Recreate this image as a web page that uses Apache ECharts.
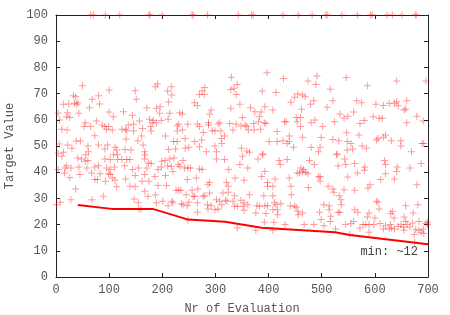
<!DOCTYPE html>
<html><head><meta charset="utf-8">
<script src="https://cdn.jsdelivr.net/npm/echarts@6/dist/echarts.min.js"></script>
<style>html,body{margin:0;padding:0;background:#fff}#c{width:450px;height:315px}</style>
</head><body><div id="c"></div>
<script>
// Evaluations (x = evaluation number, y = target value)
var evalPoints = [
[50,73.0],[33,69.2],[37,68.8],[35,66.3],[39,65.9],[41,66.5],[14,65.9],[24,66.0],[80,69.2],[100,71.4],[149,71.1],[151,67.8],[68,67.8],[82,66.0],[63,64.6],[4,62.5],[22,62.7],[20,61.2],[26,60.9],[43,62.5],[100,63.0],[127,63.1],[108,61.2],[144,61.7],[171,64.6],[7,59.9],[55,58.9],[76,59.5],[87,58.0],[92,57.4],[99,57.4],[95,56.4],[136,58.0],[146,58.3],[157,59.5],[163,56.7],[11,56.4],[21,56.1],[53,57.4],[65,57.4],[106,56.1],[124,56.4],[131,56.4],[133,55.8],[146,55.7],[73,53.9],[132,52.7],[161,53.8],[6,50.8],[22,50.4],[38,51.9],[46,51.9],[60,50.0],[80,50.4],[97,50.4],[111,49.5],[92,48.9],[114,48.5],[130,48.7],[141,48.5],[154,52.0],[164,50.4],[167,47.8],[14,47.6],[30,49.1],[61,47.8],[4,47.2],
[330,76.2],[341,73.5],[329,71.6],[335,72.0],[339,69.7],[280,72.3],[275,71.1],[270,69.7],[279,69.7],[191,73.7],[187,72.6],[217,72.6],[210,71.0],[218,69.5],[212,66.8],[261,66.5],[266,65.5],[189,64.4],[196,65.0],[346,65.9],[329,64.4],[292,63.7],[289,62.1],[233,62.7],[238,62.2],[195,62.5],[214,62.5],[176,60.2],[183,59.7],[181,58.9],[189,58.9],[198,59.7],[211,60.2],[231,58.3],[228,57.6],[248,58.3],[266,58.4],[270,57.4],[287,58.9],[287,58.0],[308,58.9],[305,58.4],[327,58.6],[339,58.3],[348,57.6],[178,57.4],[179,55.7],[228,55.7],[238,56.1],[277,55.2],[294,55.8],[299,55.8],[310,55.7],[333,56.1],[317,53.8],[311,52.9],[206,53.8],[243,52.9],[221,51.7],[228,51.7],[261,51.7],[274,52.3],[312,51.0],[270,49.7],[299,50.0],[349,49.1],[212,48.7],[225,48.9],[243,49.1],[250,49.5],[283,47.8],[302,47.8],
[397,78.0],[428,75.8],[491,76.7],[474,74.8],[489,73.5],[516,71.7],[388,71.0],[414,70.4],[455,69.8],[464,69.5],[449,68.6],[469,68.8],[442,66.7],[485,67.3],[479,65.9],[521,67.3],[366,64.6],[393,65.0],[374,63.1],[383,61.2],[386,63.0],[408,63.7],[462,64.0],[510,64.8],[351,60.9],[381,59.3],[392,58.9],[372,58.6],[359,57.4],[356,58.0],[362,56.1],[373,56.1],[385,56.4],[395,58.6],[430,59.3],[433,59.3],[452,60.9],[460,60.9],[454,59.3],[480,58.9],[487,59.9],[524,59.3],[460,57.4],[502,57.4],[416,55.5],[439,53.8],[464,53.3],[499,53.2],[521,52.5],[401,51.7],[416,51.7],[427,52.0],[435,51.0],[439,51.7],[447,49.5],[480,49.4],[497,49.5],[494,47.8],[359,48.1],[364,47.6],[389,46.9],
[546,76.1],[586,73.0],[641,74.8],[696,74.8],[566,67.3],[575,66.5],[602,65.9],[616,65.5],[627,66.3],[637,66.3],[641,66.9],[660,67.3],[644,65.4],[655,63.7],[658,64.1],[560,63.0],[549,61.4],[534,62.2],[542,60.6],[572,58.6],[580,59.7],[597,61.2],[608,60.6],[614,60.6],[660,58.9],[679,61.4],[691,59.5],[547,55.1],[570,54.2],[620,54.2],[616,53.3],[603,52.3],[606,52.9],[532,52.0],[548,51.7],[555,51.0],[631,52.0],[649,52.0],[576,50.0],[584,49.1],[548,48.5],[558,48.9],[649,50.0],[689,51.0],[692,51.0],[669,47.8],[529,46.9],
[11,46.1],[41,45.4],[48,45.0],[56,46.7],[55,44.2],[60,44.5],[92,45.0],[102,44.8],[108,46.7],[116,46.7],[116,44.8],[124,44.8],[133,44.8],[139,44.8],[167,45.0],[167,46.7],[20,42.5],[28,41.6],[17,41.6],[43,42.0],[58,41.6],[73,42.0],[80,42.5],[95,41.6],[102,41.0],[110,42.0],[129,42.5],[144,41.0],[155,41.6],[171,41.6],[4,41.0],[16,39.7],[26,38.0],[45,39.1],[67,39.7],[73,37.2],[78,37.2],[83,39.4],[102,39.1],[106,37.8],[111,36.9],[131,37.4],[149,38.7],[167,39.1],[162,36.5],[174,43.5],[175,36.5],[93,36.5],[99,39.4],[114,34.4],[139,34.6],[149,34.4],[167,32.7],[37,33.6],[28,29.5],[8,28.5],[1,27.6],[68,29.5],[89,30.8],[147,29.8],[155,28.3],[156,26.0],[160,26.0],
[199,44.2],[205,44.5],[214,45.0],[222,45.4],[230,42.9],[239,44.5],[248,41.6],[253,41.6],[270,41.2],[275,41.0],[302,45.0],[317,44.8],[325,41.0],[346,42.9],[179,43.3],[192,41.0],[198,42.0],[210,42.5],[217,42.2],[220,40.3],[233,42.2],[242,41.6],[186,38.4],[206,38.7],[247,37.2],[264,37.8],[289,36.1],[286,35.2],[321,36.1],[324,34.6],[337,37.8],[192,34.9],[208,34.9],[226,33.1],[231,33.1],[235,33.1],[245,31.4],[256,33.1],[267,33.6],[258,30.8],[280,31.0],[289,32.1],[314,32.1],[324,32.3],[336,31.0],[173,30.8],[187,31.3],[218,28.9],[220,28.3],[236,28.0],[239,27.6],[250,28.5],[247,27.2],[261,30.8],[266,28.3],[277,30.8],[285,27.6],[292,27.2],[302,29.5],[308,28.9],[319,29.3],[322,28.9],[333,28.9],[336,27.0],[341,27.0],[352,27.0],[286,26.0],[299,25.7],[305,26.0],[312,27.6],[211,27.2],[201,28.9],[266,24.7],[189,28.3],[248,21.8],[341,18.7],
[351,46.1],[380,45.0],[389,46.7],[420,44.5],[435,44.8],[422,42.9],[461,41.6],[466,41.0],[477,44.5],[486,42.9],[494,38.2],[497,38.4],[361,41.6],[393,40.3],[387,38.4],[412,37.4],[398,36.1],[408,34.6],[398,34.6],[439,37.8],[442,34.6],[454,39.7],[458,39.7],[470,39.9],[474,39.4],[464,40.3],[475,34.2],[497,36.5],[512,34.6],[521,33.6],[354,36.9],[364,31.4],[391,31.0],[408,31.0],[443,31.4],[348,29.3],[354,28.3],[361,27.6],[378,27.2],[383,27.0],[393,27.2],[398,27.2],[411,28.3],[414,27.6],[423,28.0],[441,27.2],[449,27.0],[452,26.6],[417,25.7],[408,25.7],[354,25.5],[376,24.4],[395,24.2],[417,23.8],[455,25.1],[456,23.8],[464,24.4],[496,24.7],[504,27.6],[514,27.2],[514,25.7],[517,23.2],[499,21.9],[467,20.0],[485,20.0],[504,19.6],[516,21.2],[431,20.0],[410,20.9],[392,20.9],[376,17.8],[408,17.8],
[528,46.7],[543,45.0],[531,42.5],[545,42.9],[562,43.3],[581,42.0],[580,40.7],[567,39.7],[618,44.5],[620,42.9],[642,42.0],[641,40.3],[666,41.6],[687,43.3],[620,39.4],[611,37.2],[637,37.4],[679,35.2],[591,35.2],[587,34.0],[549,38.2],[542,33.3],[562,33.1],[523,32.3],[533,31.0],[536,29.5],[537,27.6],[531,24.7],[534,24.7],[603,28.9],[608,26.0],[606,28.5],[658,27.2],[562,25.7],[568,24.7],[589,24.4],[586,22.9],[600,22.5],[633,25.1],[630,24.2],[636,22.5],[655,22.9],[672,24.4],[681,27.6],[658,21.2],[545,20.0],[555,20.4],[560,21.2],[578,20.0],[583,20.0],[589,20.0],[598,20.0],[610,20.4],[620,19.6],[629,20.0],[631,18.7],[637,18.3],[644,19.3],[649,20.0],[654,19.1],[661,20.0],[666,19.1],[671,20.6],[677,18.1],[683,17.8],[687,17.1],[692,16.6],[696,20.4],[699,20.0],[683,21.2],[526,18.3],[553,16.3],[572,18.7],[589,17.1],[616,18.3],[655,17.8],[674,16.2],[691,18.3],[627,18.3],[699,20.9],[675,13.3]
];
// Evaluations that hit the upper bound (target value 100)
var capX = [65,70,93,120,175,177,200,256,258,285,343,368,371,427,456,482,508,510,538,567,592,595,623,633,651,676,678];
var capValue = 100;
// Running minimum curve
var minX = [41,105,182,249,318,387,525,553,700];
var minY = [27.5,26,26,21.9,21.1,18.8,17.1,16,12.5];
var xTicks = {min:0, max:700, step:100};
var yTicks = {min:0, max:100, step:10};
var annotation = 'min: ~12';

var scatterData = evalPoints.concat(capX.map(function(x){return [x, capValue];}));
var minData = minX.map(function(x,i){return [x, minY[i]];});

var mono = 'Liberation Mono, DejaVu Sans Mono, monospace';
var axisCol = '#222';
var labCol = '#555';
function xa(pos, show){
  return {type:'value', position:pos, min:xTicks.min, max:xTicks.max, interval:xTicks.step,
    axisLine:{show:true, onZero:false, lineStyle:{color:axisCol, width:1}},
    axisTick:{show:true, inside:true, length:4, lineStyle:{color:axisCol}},
    axisLabel:{show:show, color:labCol, fontFamily:mono, fontSize:12, margin:7},
    splitLine:{show:false},
    name: show ? 'Nr of Evaluation' : '', nameLocation:'middle', nameGap:26,
    nameTextStyle:{color:labCol, fontFamily:mono, fontSize:12}};
}
function ya(pos, show){
  return {type:'value', position:pos, min:yTicks.min, max:yTicks.max, interval:yTicks.step,
    axisLine:{show:true, onZero:false, lineStyle:{color:axisCol, width:1}},
    axisTick:{show:true, inside:true, length:4, lineStyle:{color:axisCol}},
    axisLabel:{show:show, color:labCol, fontFamily:mono, fontSize:12, margin:8},
    splitLine:{show:false},
    name: show ? 'Target Value' : '', nameLocation:'middle', nameGap:37,
    nameTextStyle:{color:labCol, fontFamily:mono, fontSize:12}};
}
var chart = echarts.init(document.getElementById('c'), null, {renderer:'canvas'});
chart.setOption({
  animation:false,
  backgroundColor:'#fff',
  grid:{left:56, right:22, top:15, bottom:38, containLabel:false, outerBoundsMode:'none'},
  xAxis:[xa('bottom', true), xa('top', false)],
  yAxis:[ya('left', true), ya('right', false)],
  series:[
    {type:'scatter', xAxisIndex:0, yAxisIndex:0, data:scatterData, clip:false,
     symbol:'path://M3,0h1v3h3v1h-3v3h-1v-3h-3v-1h3z', symbolSize:7,
     itemStyle:{color:'rgba(255,0,0,0.5)'}, z:2},
    {type:'line', xAxisIndex:0, yAxisIndex:0, data:minData, showSymbol:false, symbol:'none',
     lineStyle:{color:'#ff0000', width:2}, z:3}
  ],
  graphic:[{type:'text', right:32, top:246, style:{text:annotation, font:'12px '+mono, fill:'#444'}}]
});
</script></body></html>
